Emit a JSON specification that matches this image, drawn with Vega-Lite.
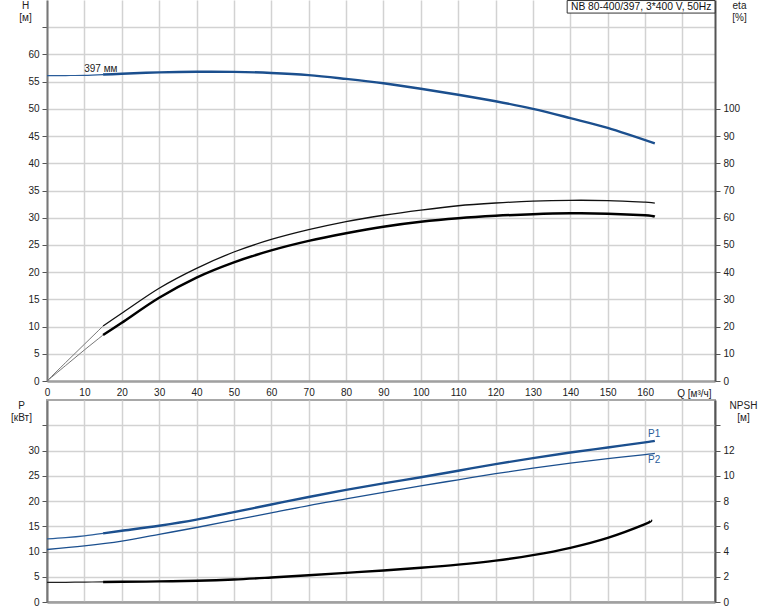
{
  "$schema": "https://vega.github.io/schema/vega-lite/v6.json",
  "background": "white",
  "padding": {"left": 9, "top": 0, "right": 0, "bottom": 0},
  "bounds": "flush",
  "spacing": 19,
  "config": {
    "font": "Liberation Sans",
    "view": {"stroke": null},
    "axis": {
      "labelFont": "Liberation Sans", "labelFontSize": 10, "labelColor": "#222",
      "labelOverlap": false, "labelBound": false, "labelFlush": false,
      "titleFont": "Liberation Sans", "titleFontSize": 10, "titleFontWeight": "normal", "titleColor": "#222",
      "gridColor": "#d2d2d2", "gridWidth": 1.5, "tickColor": "#555", "tickSize": 5, "labelPadding": 3
    },
    "text": {"font": "Liberation Sans"}
  },
  "datasets": {
    "top": [
      {"c": "H", "p": "min", "q": 0, "v": 56.1},
      {"c": "H", "p": "min", "q": 5, "v": 56.12},
      {"c": "H", "p": "min", "q": 10, "v": 56.16},
      {"c": "H", "p": "min", "q": 15, "v": 56.3},
      {"c": "H", "p": "op", "q": 15, "v": 56.3},
      {"c": "H", "p": "op", "q": 20, "v": 56.46},
      {"c": "H", "p": "op", "q": 30, "v": 56.7},
      {"c": "H", "p": "op", "q": 40, "v": 56.82},
      {"c": "H", "p": "op", "q": 50, "v": 56.8},
      {"c": "H", "p": "op", "q": 60, "v": 56.6},
      {"c": "H", "p": "op", "q": 70, "v": 56.2},
      {"c": "H", "p": "op", "q": 80, "v": 55.5},
      {"c": "H", "p": "op", "q": 90, "v": 54.7},
      {"c": "H", "p": "op", "q": 100, "v": 53.7},
      {"c": "H", "p": "op", "q": 110, "v": 52.6},
      {"c": "H", "p": "op", "q": 120, "v": 51.4},
      {"c": "H", "p": "op", "q": 130, "v": 50.0},
      {"c": "H", "p": "op", "q": 140, "v": 48.3},
      {"c": "H", "p": "op", "q": 150, "v": 46.5},
      {"c": "H", "p": "op", "q": 162.6, "v": 43.65},
      {"c": "eta1", "p": "min", "q": 0, "v": 0},
      {"c": "eta1", "p": "min", "q": 5, "v": 6.8},
      {"c": "eta1", "p": "min", "q": 10, "v": 13.5},
      {"c": "eta1", "p": "min", "q": 15, "v": 20.2},
      {"c": "eta1", "p": "op", "q": 15, "v": 20.2},
      {"c": "eta1", "p": "op", "q": 20, "v": 24.9},
      {"c": "eta1", "p": "op", "q": 30, "v": 34.1},
      {"c": "eta1", "p": "op", "q": 40, "v": 41.4},
      {"c": "eta1", "p": "op", "q": 50, "v": 47.4},
      {"c": "eta1", "p": "op", "q": 60, "v": 52.0},
      {"c": "eta1", "p": "op", "q": 70, "v": 55.6},
      {"c": "eta1", "p": "op", "q": 80, "v": 58.6},
      {"c": "eta1", "p": "op", "q": 90, "v": 60.9},
      {"c": "eta1", "p": "op", "q": 100, "v": 62.8},
      {"c": "eta1", "p": "op", "q": 110, "v": 64.4},
      {"c": "eta1", "p": "op", "q": 120, "v": 65.4},
      {"c": "eta1", "p": "op", "q": 130, "v": 66.1},
      {"c": "eta1", "p": "op", "q": 140, "v": 66.4},
      {"c": "eta1", "p": "op", "q": 150, "v": 66.3},
      {"c": "eta1", "p": "op", "q": 160, "v": 65.7},
      {"c": "eta1", "p": "op", "q": 162.6, "v": 65.4},
      {"c": "eta2", "p": "min", "q": 0, "v": 0},
      {"c": "eta2", "p": "min", "q": 5, "v": 5.7},
      {"c": "eta2", "p": "min", "q": 10, "v": 11.4},
      {"c": "eta2", "p": "min", "q": 15, "v": 16.9},
      {"c": "eta2", "p": "op", "q": 15, "v": 16.9},
      {"c": "eta2", "p": "op", "q": 20, "v": 21.4},
      {"c": "eta2", "p": "op", "q": 30, "v": 30.6},
      {"c": "eta2", "p": "op", "q": 40, "v": 38.0},
      {"c": "eta2", "p": "op", "q": 50, "v": 43.6},
      {"c": "eta2", "p": "op", "q": 60, "v": 48.0},
      {"c": "eta2", "p": "op", "q": 70, "v": 51.5},
      {"c": "eta2", "p": "op", "q": 80, "v": 54.3},
      {"c": "eta2", "p": "op", "q": 90, "v": 56.7},
      {"c": "eta2", "p": "op", "q": 100, "v": 58.5},
      {"c": "eta2", "p": "op", "q": 110, "v": 59.8},
      {"c": "eta2", "p": "op", "q": 120, "v": 60.7},
      {"c": "eta2", "p": "op", "q": 130, "v": 61.3},
      {"c": "eta2", "p": "op", "q": 140, "v": 61.6},
      {"c": "eta2", "p": "op", "q": 150, "v": 61.5},
      {"c": "eta2", "p": "op", "q": 160, "v": 60.9},
      {"c": "eta2", "p": "op", "q": 162.6, "v": 60.4}
    ],
    "bottom": [
      {"c": "P1", "p": "min", "q": 0, "v": 12.5},
      {"c": "P1", "p": "min", "q": 5, "v": 12.75},
      {"c": "P1", "p": "min", "q": 10, "v": 13.1},
      {"c": "P1", "p": "min", "q": 15, "v": 13.6},
      {"c": "P1", "p": "op", "q": 15, "v": 13.6},
      {"c": "P1", "p": "op", "q": 20, "v": 14.1},
      {"c": "P1", "p": "op", "q": 30, "v": 15.1},
      {"c": "P1", "p": "op", "q": 40, "v": 16.3},
      {"c": "P1", "p": "op", "q": 50, "v": 17.8},
      {"c": "P1", "p": "op", "q": 60, "v": 19.3},
      {"c": "P1", "p": "op", "q": 70, "v": 20.8},
      {"c": "P1", "p": "op", "q": 80, "v": 22.2},
      {"c": "P1", "p": "op", "q": 90, "v": 23.5},
      {"c": "P1", "p": "op", "q": 100, "v": 24.7},
      {"c": "P1", "p": "op", "q": 110, "v": 26.0},
      {"c": "P1", "p": "op", "q": 120, "v": 27.3},
      {"c": "P1", "p": "op", "q": 130, "v": 28.5},
      {"c": "P1", "p": "op", "q": 140, "v": 29.6},
      {"c": "P1", "p": "op", "q": 150, "v": 30.6},
      {"c": "P1", "p": "op", "q": 160, "v": 31.6},
      {"c": "P1", "p": "op", "q": 162.6, "v": 31.9},
      {"c": "P2", "p": "op", "q": 0, "v": 10.4},
      {"c": "P2", "p": "op", "q": 10, "v": 11.1},
      {"c": "P2", "p": "op", "q": 20, "v": 12.05},
      {"c": "P2", "p": "op", "q": 30, "v": 13.4},
      {"c": "P2", "p": "op", "q": 40, "v": 14.75},
      {"c": "P2", "p": "op", "q": 50, "v": 16.2},
      {"c": "P2", "p": "op", "q": 60, "v": 17.65},
      {"c": "P2", "p": "op", "q": 70, "v": 19.1},
      {"c": "P2", "p": "op", "q": 80, "v": 20.4},
      {"c": "P2", "p": "op", "q": 90, "v": 21.7},
      {"c": "P2", "p": "op", "q": 100, "v": 23.0},
      {"c": "P2", "p": "op", "q": 110, "v": 24.2},
      {"c": "P2", "p": "op", "q": 120, "v": 25.4},
      {"c": "P2", "p": "op", "q": 130, "v": 26.5},
      {"c": "P2", "p": "op", "q": 140, "v": 27.5},
      {"c": "P2", "p": "op", "q": 150, "v": 28.4},
      {"c": "P2", "p": "op", "q": 160, "v": 29.2},
      {"c": "P2", "p": "op", "q": 162.6, "v": 29.45},
      {"c": "NPSH", "p": "min", "q": 0, "v": 1.55},
      {"c": "NPSH", "p": "min", "q": 5, "v": 1.56},
      {"c": "NPSH", "p": "min", "q": 10, "v": 1.58},
      {"c": "NPSH", "p": "min", "q": 15, "v": 1.59},
      {"c": "NPSH", "p": "op", "q": 15, "v": 1.59},
      {"c": "NPSH", "p": "op", "q": 20, "v": 1.6},
      {"c": "NPSH", "p": "op", "q": 30, "v": 1.63},
      {"c": "NPSH", "p": "op", "q": 40, "v": 1.68},
      {"c": "NPSH", "p": "op", "q": 50, "v": 1.78},
      {"c": "NPSH", "p": "op", "q": 60, "v": 1.94},
      {"c": "NPSH", "p": "op", "q": 70, "v": 2.12},
      {"c": "NPSH", "p": "op", "q": 80, "v": 2.31},
      {"c": "NPSH", "p": "op", "q": 90, "v": 2.5},
      {"c": "NPSH", "p": "op", "q": 100, "v": 2.71},
      {"c": "NPSH", "p": "op", "q": 110, "v": 2.96},
      {"c": "NPSH", "p": "op", "q": 120, "v": 3.28},
      {"c": "NPSH", "p": "op", "q": 130, "v": 3.71},
      {"c": "NPSH", "p": "op", "q": 140, "v": 4.29},
      {"c": "NPSH", "p": "op", "q": 150, "v": 5.08},
      {"c": "NPSH", "p": "op", "q": 160, "v": 6.17},
      {"c": "NPSH", "p": "op", "q": 161.6, "v": 6.48}
    ],
    "labels": [
      {"t": "397 мм", "q": 14.4, "v": 56.3},
      {"t": "NB 80-400/397, 3*400 V, 50Hz", "q": 158.95, "v": 68.73},
      {"t": "P1", "q": 162.4, "v": 31.9},
      {"t": "P2", "q": 162.4, "v": 29.45}
    ]
  },
  "vconcat": [
    {
      "width": 668,
      "height": 381,
      "view": {"stroke": null},
      "encoding": {
        "x": {
          "field": "q", "type": "quantitative",
          "scale": {"domain": [0, 178.7], "nice": false, "zero": false},
          "axis": {
            "values": [0, 10, 20, 30, 40, 50, 60, 70, 80, 90, 100, 110, 120, 130, 140, 150, 160, 170],
            "labelExpr": "datum.value == 170 ? '' : datum.label",
            "ticks": false, "labelPadding": 6, "grid": true,
            "domainColor": "#a0a0a0", "domainWidth": 2.5,
            "title": "Q [м³/ч]", "titleX": 664, "titleY": 15,
            "titleAlign": "right", "titleBaseline": "alphabetic"
          }
        }
      },
      "layer": [
        {
          "encoding": {
            "y": {
              "field": "v", "type": "quantitative",
              "scale": {"domain": [0, 70], "nice": false},
              "axis": {
                "orient": "left",
                "values": [0, 5, 10, 15, 20, 25, 30, 35, 40, 45, 50, 55, 60, 65],
                "labelExpr": "datum.value == 65 ? '' : datum.label",
                "labelOverlap": false,
                "grid": true, "domainColor": "#777", "domainWidth": 2,
                "title": ["H", "[м]"], "titleAngle": 0, "titleAlign": "center",
                "titleBaseline": "top", "titleX": -22, "titleY": 0, "titleLineHeight": 12
              }
            }
          },
          "layer": [
            {
              "data": {"name": "top"},
              "transform": [{"filter": "datum.c == 'H' && datum.p == 'min'"}],
              "mark": {"type": "line", "color": "#2a5d9a", "strokeWidth": 1.2, "interpolate": "cardinal"}
            },
            {
              "data": {"name": "top"},
              "transform": [{"filter": "datum.c == 'H' && datum.p == 'op'"}],
              "mark": {"type": "line", "color": "#1b4f8e", "strokeWidth": 2.4, "interpolate": "cardinal"}
            },
            {
              "data": {"name": "labels"},
              "transform": [{"filter": "datum.t == '397 мм'"}],
              "mark": {"type": "text", "dy": -6, "fontSize": 10, "color": "#222"},
              "encoding": {"text": {"field": "t"}}
            },
            {
              "data": {"name": "labels"},
              "transform": [{"filter": "indexof(datum.t, 'NB') == 0"}],
              "mark": {"type": "rect", "fill": "white", "stroke": "#333", "strokeWidth": 1},
              "encoding": {
                "x": {"datum": 139.15, "type": "quantitative"},
                "x2": {"datum": 178.7},
                "y": {"datum": 69.9, "type": "quantitative"},
                "y2": {"datum": 67.6}
              }
            },
            {
              "data": {"name": "labels"},
              "transform": [{"filter": "indexof(datum.t, 'NB') == 0"}],
              "mark": {"type": "text", "fontSize": 10.3, "color": "#111", "baseline": "middle"},
              "encoding": {"text": {"field": "t"}}
            }
          ]
        },
        {
          "encoding": {
            "y": {
              "field": "v", "type": "quantitative",
              "scale": {"domain": [0, 140], "nice": false},
              "axis": {
                "orient": "right",
                "values": [0, 10, 20, 30, 40, 50, 60, 70, 80, 90, 100],
                "labelOverlap": false,
                "grid": false, "domainColor": "#555", "domainWidth": 2,
                "title": ["eta", "[%]"], "titleAngle": 0, "titleAlign": "center",
                "titleBaseline": "top", "titleX": 24, "titleY": 0, "titleLineHeight": 12
              }
            }
          },
          "layer": [
            {
              "data": {"name": "top"},
              "transform": [{"filter": "datum.p == 'min' && (datum.c == 'eta1' || datum.c == 'eta2')"}],
              "mark": {"type": "line", "color": "#777", "strokeWidth": 1, "interpolate": "cardinal"},
              "encoding": {"detail": {"field": "c"}}
            },
            {
              "data": {"name": "top"},
              "transform": [{"filter": "datum.c == 'eta1' && datum.p == 'op'"}],
              "mark": {"type": "line", "color": "#111", "strokeWidth": 1.3, "interpolate": "cardinal"}
            },
            {
              "data": {"name": "top"},
              "transform": [{"filter": "datum.c == 'eta2' && datum.p == 'op'"}],
              "mark": {"type": "line", "color": "#000", "strokeWidth": 2.5, "interpolate": "cardinal"}
            }
          ]
        }
      ],
      "resolve": {"scale": {"y": "independent"}}
    },
    {
      "width": 668,
      "height": 202,
      "view": {"stroke": "#a8a8a8", "strokeWidth": 2},
      "encoding": {
        "x": {
          "field": "q", "type": "quantitative",
          "scale": {"domain": [0, 178.7], "nice": false, "zero": false},
          "axis": {
            "values": [0, 10, 20, 30, 40, 50, 60, 70, 80, 90, 100, 110, 120, 130, 140, 150, 160, 170],
            "labels": false, "ticks": false, "grid": true, "title": null,
            "domainColor": "#a0a0a0", "domainWidth": 2.5
          }
        }
      },
      "layer": [
        {
          "encoding": {
            "y": {
              "field": "v", "type": "quantitative",
              "scale": {"domain": [0, 40], "nice": false},
              "axis": {
                "orient": "left",
                "values": [0, 5, 10, 15, 20, 25, 30, 35],
                "labelExpr": "datum.value == 35 ? '' : datum.label",
                "labelOverlap": false,
                "grid": true, "domainColor": "#777", "domainWidth": 2,
                "title": ["P", "[кВт]"], "titleAngle": 0, "titleAlign": "center",
                "titleBaseline": "top", "titleX": -26, "titleY": 0, "titleLineHeight": 12
              }
            }
          },
          "layer": [
            {
              "data": {"name": "bottom"},
              "transform": [{"filter": "datum.c == 'P1' && datum.p == 'min'"}],
              "mark": {"type": "line", "color": "#2a5d9a", "strokeWidth": 1.2, "interpolate": "cardinal"}
            },
            {
              "data": {"name": "bottom"},
              "transform": [{"filter": "datum.c == 'P1' && datum.p == 'op'"}],
              "mark": {"type": "line", "color": "#1b4f8e", "strokeWidth": 2.4, "interpolate": "cardinal"}
            },
            {
              "data": {"name": "bottom"},
              "transform": [{"filter": "datum.c == 'P2'"}],
              "mark": {"type": "line", "color": "#1b4f8e", "strokeWidth": 1.3, "interpolate": "cardinal"}
            },
            {
              "data": {"name": "labels"},
              "transform": [{"filter": "datum.t == 'P1'"}],
              "mark": {"type": "text", "dy": -7, "fontSize": 10, "color": "#2a5d9a"},
              "encoding": {"text": {"field": "t"}}
            },
            {
              "data": {"name": "labels"},
              "transform": [{"filter": "datum.t == 'P2'"}],
              "mark": {"type": "text", "dy": 7, "fontSize": 10, "color": "#2a5d9a"},
              "encoding": {"text": {"field": "t"}}
            }
          ]
        },
        {
          "encoding": {
            "y": {
              "field": "v", "type": "quantitative",
              "scale": {"domain": [0, 16], "nice": false},
              "axis": {
                "orient": "right",
                "values": [0, 2, 4, 6, 8, 10, 12, 14],
                "labelExpr": "datum.value == 14 ? '' : datum.label",
                "labelOverlap": false,
                "grid": false, "domainColor": "#555", "domainWidth": 2,
                "title": ["NPSH", "[м]"], "titleAngle": 0, "titleAlign": "center",
                "titleBaseline": "top", "titleX": 28, "titleY": 0, "titleLineHeight": 12
              }
            }
          },
          "layer": [
            {
              "data": {"name": "bottom"},
              "transform": [{"filter": "datum.c == 'NPSH' && datum.p == 'min'"}],
              "mark": {"type": "line", "color": "#222", "strokeWidth": 1.2, "interpolate": "cardinal"}
            },
            {
              "data": {"name": "bottom"},
              "transform": [{"filter": "datum.c == 'NPSH' && datum.p == 'op'"}],
              "mark": {"type": "line", "color": "#000", "strokeWidth": 2.4, "interpolate": "cardinal"}
            }
          ]
        }
      ],
      "resolve": {"scale": {"y": "independent"}}
    }
  ]
}
